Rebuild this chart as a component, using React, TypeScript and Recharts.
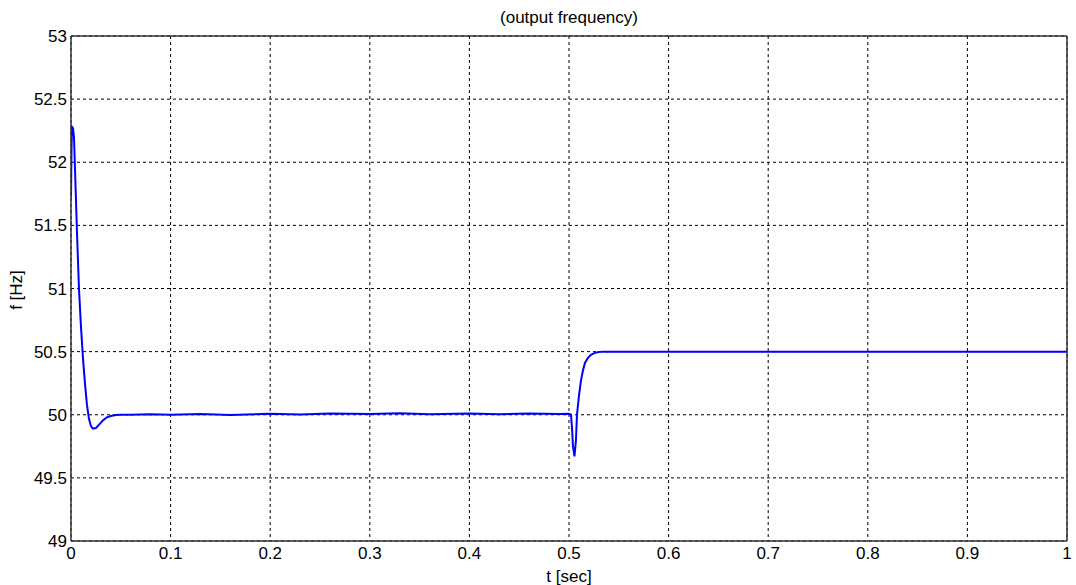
import { LineChart, Line, XAxis, YAxis, CartesianGrid, ReferenceLine } from 'recharts';

// time samples [sec] and output frequency [Hz]
const timeSec = [
  0, 0.0005, 0.001, 0.002, 0.003, 0.004, 0.006, 0.008, 0.01, 0.012, 0.014, 0.016, 0.018,
  0.02, 0.022, 0.025, 0.028, 0.032, 0.036, 0.04, 0.045, 0.05, 0.06, 0.08, 0.1, 0.13, 0.16,
  0.2, 0.23, 0.26, 0.3, 0.33, 0.36, 0.4, 0.43, 0.46, 0.49, 0.5, 0.502, 0.503, 0.504,
  0.5055, 0.507, 0.508, 0.51, 0.512, 0.514, 0.516, 0.519, 0.522, 0.526, 0.53, 0.535,
  0.6, 0.7, 0.8, 0.9, 1,
];
const freqHz = [
  51.72, 52.1, 52.28, 52.27, 52.2, 51.95, 51.45, 51.0, 50.7, 50.45, 50.25, 50.08, 49.97,
  49.91, 49.89, 49.895, 49.92, 49.955, 49.98, 49.99, 49.998, 50.0, 50.0, 50.004, 50.0, 50.006, 49.998,
  50.008, 50.002, 50.01, 50.005, 50.012, 50.004, 50.009, 50.003, 50.01, 50.006, 50.008, 50.0, 49.9, 49.75,
  49.67, 49.8, 50.0, 50.15, 50.27, 50.35, 50.41, 50.45, 50.475, 50.49, 50.497, 50.5,
  50.5, 50.5, 50.5, 50.5, 50.5,
];

const xTicks = [0, 0.1, 0.2, 0.3, 0.4, 0.5, 0.6, 0.7, 0.8, 0.9, 1];
const yTicks = [49, 49.5, 50, 50.5, 51, 51.5, 52, 52.5, 53];

const data = timeSec.map((t, i) => ({ t, f: freqHz[i] }));

const FONT = 'Arial, "Liberation Sans", sans-serif';

export default function App() {
  return (
    <div style={{ position: 'absolute', left: 0, top: 0, width: 1076, height: 585, background: '#fff', fontFamily: FONT }}>
      <div style={{ position: 'absolute', top: 8, left: 71, width: 996, textAlign: 'center', fontSize: 17, lineHeight: '20px', color: '#000' }}>
        (output frequency)
      </div>
      <div style={{ position: 'absolute', left: 17, top: 290, transform: 'translate(-50%, -50%) rotate(-90deg)', fontSize: 17, lineHeight: '20px', whiteSpace: 'nowrap', color: '#000' }}>
        f [Hz]
      </div>
      <div style={{ position: 'absolute', top: 567, left: 71, width: 996, textAlign: 'center', fontSize: 17, lineHeight: '20px', color: '#000' }}>
        t [sec]
      </div>
      <LineChart
        width={1076}
        height={585}
        data={data}
        margin={{ top: 36, right: 9, bottom: 14, left: 11 }}
      >
        <CartesianGrid stroke="#000" strokeDasharray="3 3" strokeWidth={1} />
        <XAxis
          dataKey="t"
          type="number"
          domain={[0, 1]}
          ticks={xTicks}
          height={30}
          tickLine={false}
          tickSize={4}
          tickMargin={2}
          axisLine={{ stroke: '#333', strokeWidth: 1.5 }}
          tick={{ fill: '#000', fontSize: 17, fontFamily: FONT }}
          tickFormatter={(v) => String(v)}
          allowDataOverflow
        />
        <YAxis
          type="number"
          domain={[49, 53]}
          ticks={yTicks}
          width={60}
          tickLine={false}
          tickSize={2}
          tickMargin={2}
          axisLine={{ stroke: '#333', strokeWidth: 1.5 }}
          tick={{ fill: '#000', fontSize: 17, fontFamily: FONT }}
          tickFormatter={(v) => String(v)}
          allowDataOverflow
        />
        <ReferenceLine y={53} stroke="#333" strokeWidth={1.5} />
        <ReferenceLine x={1} stroke="#333" strokeWidth={1.5} />
        <Line
          type="linear"
          dataKey="f"
          stroke="#0000ff"
          strokeWidth={2}
          dot={false}
          isAnimationActive={false}
        />
      </LineChart>
    </div>
  );
}
